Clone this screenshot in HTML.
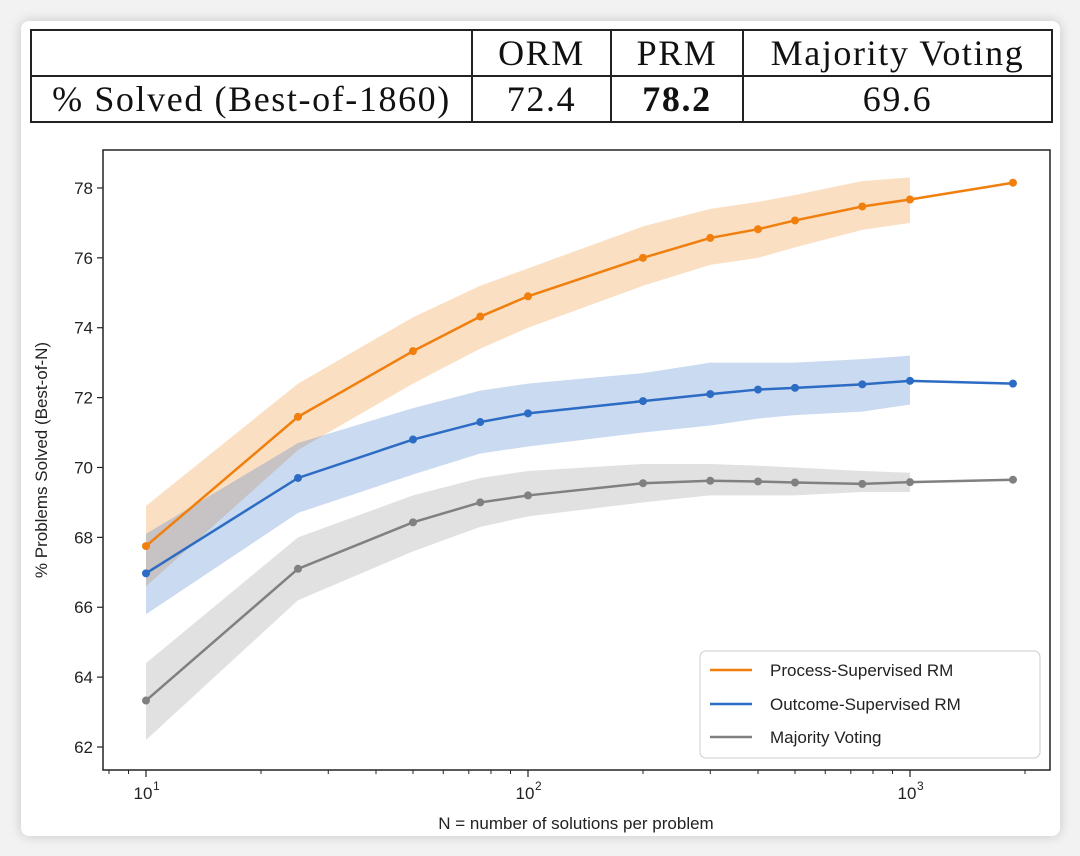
<!DOCTYPE html>
<html><head><meta charset="utf-8"><style>
body{margin:0;width:1080px;height:856px;background:#f2f2f2;overflow:hidden;font-family:"Liberation Sans",sans-serif}
#card{position:absolute;left:21px;top:21px;width:1039px;height:815px;background:#fff;border-radius:8px;box-shadow:0 0 12px rgba(0,0,0,0.18)}
#tbl{position:absolute;left:30px;top:29px;border-collapse:collapse;font-family:"Liberation Serif",serif;font-size:36px;letter-spacing:1.6px;color:#111}
#tbl td{border:2px solid #222;height:44px;padding:0;text-align:center;line-height:44px}
svg{position:absolute;left:0;top:0}
</style></head><body>
<div id="card"></div>
<table id="tbl">
<tr><td style="width:439px"></td><td style="width:137px">ORM</td><td style="width:130px">PRM</td><td style="width:307px">Majority Voting</td></tr>
<tr><td>% Solved (Best-of-1860)</td><td>72.4</td><td><b>78.2</b></td><td>69.6</td></tr>
</table>
<svg id="chart" width="1080" height="856"></svg>
<script>
const nVals=[10,25,50,75,100,200,300,400,500,750,1000,1860];
const prm=[67.75,71.45,73.33,74.32,74.9,76.0,76.57,76.82,77.07,77.47,77.67,78.15];
const orm=[66.97,69.7,70.8,71.3,71.55,71.9,72.1,72.23,72.28,72.38,72.48,72.4];
const mv=[63.33,67.1,68.43,69.0,69.2,69.55,69.62,69.6,69.57,69.53,69.58,69.65];
const bandN=[10,25,50,75,100,200,300,400,500,750,1000];
const prmLo=[66.6,70.5,72.4,73.4,74.0,75.2,75.8,76.0,76.3,76.8,77.0];
const prmHi=[68.9,72.4,74.3,75.2,75.7,76.9,77.4,77.6,77.8,78.2,78.3];
const ormLo=[65.8,68.7,69.8,70.4,70.6,71.0,71.2,71.4,71.5,71.6,71.8];
const ormHi=[68.1,70.7,71.7,72.2,72.4,72.7,73.0,73.0,73.0,73.1,73.2];
const mvLo=[62.2,66.2,67.6,68.3,68.6,69.0,69.2,69.2,69.2,69.3,69.3];
const mvHi=[64.4,68.0,69.2,69.7,69.9,70.1,70.1,70.05,70.0,69.9,69.85];
const yTicks=[62,64,66,68,70,72,74,76,78];
const xTicks=[1,2,3];
const svg=document.getElementById('chart');const NS='http://www.w3.org/2000/svg';
const X=n=>146+(Math.log10(n)-1)*382;
const Y=v=>747-(v-62)*34.94;
function mk(t,a,p){const e=document.createElementNS(NS,t);for(const k in a)e.setAttribute(k,a[k]);(p||svg).appendChild(e);return e;}
function band(lo,hi,col,name){let d='M'+bandN.map((n,i)=>X(n)+','+Y(hi[i])).join('L');for(let i=bandN.length-1;i>=0;i--)d+='L'+X(bandN[i])+','+Y(lo[i]);const e=mk('path',{d:d+'Z',fill:col,'fill-opacity':0.25,stroke:'none'});

}
band(prmLo,prmHi,'#f07f0e','prm-band');band(ormLo,ormHi,'#2c6cc4','orm-band');band(mvLo,mvHi,'#888','mv-band');
function series(v,col,name){const e=mk('polyline',{points:nVals.map((n,i)=>X(n)+','+Y(v[i])).join(' '),fill:'none',stroke:col,'stroke-width':2.5});


nVals.forEach((n,i)=>{const c=mk('circle',{cx:X(n),cy:Y(v[i]),r:4,fill:col});

});}
series(mv,'#808080','mv');series(orm,'#2c6cc4','orm');series(prm,'#f07f0e','prm');
const fr=mk('rect',{x:103,y:150,width:947,height:620,fill:'none',stroke:'#222','stroke-width':1.5});

yTicks.forEach(v=>{mk('line',{x1:97,x2:103,y1:Y(v),y2:Y(v),stroke:'#222','stroke-width':1.2});const t=mk('text',{x:93,y:Y(v)+6,'text-anchor':'end','font-size':17,fill:'#222'});t.textContent=v;
});
xTicks.forEach(p=>{const x=X(Math.pow(10,p));mk('line',{x1:x,x2:x,y1:770,y2:777,stroke:'#222','stroke-width':1.2});const t=mk('text',{x:x-3,y:799,'text-anchor':'middle','font-size':17,fill:'#222'});t.textContent='10';

const s=mk('text',{x:x+7,y:790,'font-size':12,fill:'#222'});s.textContent=p;});
for(let p=1;p<=3;p++)for(let m=2;m<=9;m++){const n=m*Math.pow(10,p);if(n>2400)continue;const x=X(n);mk('line',{x1:x,x2:x,y1:770,y2:774,stroke:'#222','stroke-width':1});}
[2,3,4,5,6,7,8,9].forEach(m=>{const x=X(m);if(x>103)mk('line',{x1:x,x2:x,y1:770,y2:774,stroke:'#222','stroke-width':1});});
let t=mk('text',{x:576,y:829,'text-anchor':'middle','font-size':17,fill:'#222'});t.textContent='N = number of solutions per problem';

t=mk('text',{x:0,y:0,'text-anchor':'middle','font-size':17,fill:'#222',transform:'translate(47,460) rotate(-90)'});t.textContent='% Problems Solved (Best-of-N)';

const lg=mk('rect',{x:700,y:651,width:340,height:107,rx:6,fill:'#fff','fill-opacity':0.85,stroke:'#ccc'});

[['Process-Supervised RM','#f07f0e',670],['Outcome-Supervised RM','#2c6cc4',704],['Majority Voting','#808080',737]].forEach(a=>{mk('line',{x1:710,x2:752,y1:a[2],y2:a[2],stroke:a[1],'stroke-width':2.5});const e=mk('text',{x:770,y:a[2]+6,'font-size':17,fill:'#222'});e.textContent=a[0];
});
</script>
</body></html>
